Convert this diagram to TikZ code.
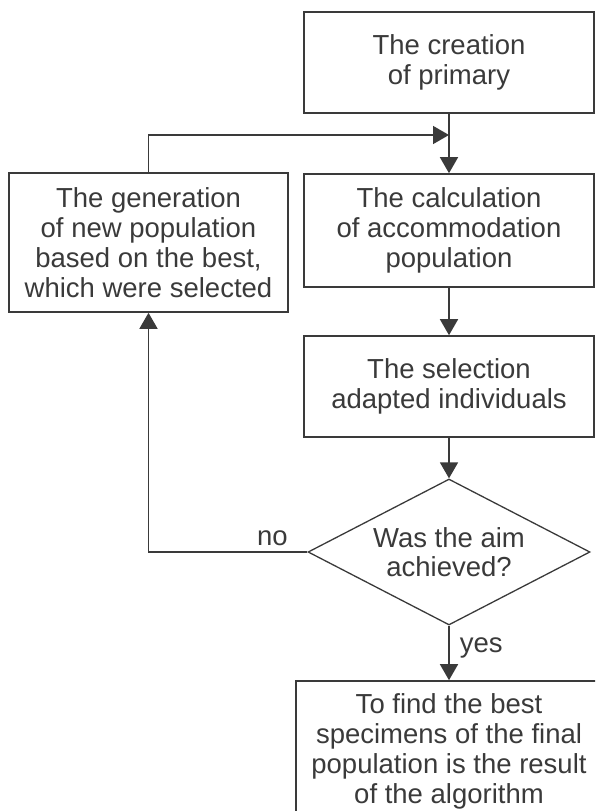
\documentclass[tikz,border=0pt]{standalone}
\usepackage{fontspec}
\setmainfont{Liberation Sans}
\usepackage{xcolor}
\usetikzlibrary{shapes.geometric, arrows.meta, positioning}
\definecolor{ink}{HTML}{3A3A3A}

\begin{document}
\begin{tikzpicture}[
    x=1pt, y=-1pt,
    box/.style={draw=ink, rectangle, line width=1.6pt, align=center, text=ink, inner sep=0pt, font=\fontsize{27.5}{30}\selectfont},
    decision/.style={draw=ink, diamond, line width=1.3pt, aspect=1.93, minimum width=282pt, minimum height=146pt, inner sep=0pt, align=center, text=ink, font=\fontsize{27.5}{29}\selectfont},
    arrow/.style={->, >={Triangle[width=18pt,length=16pt]}, draw=ink, line width=1.6pt},
    lbl/.style={text=ink, font=\fontsize{27.5}{30}\selectfont},
]
\clip (0,0) rectangle (595,811);

% Main column
\node[box, minimum width=290pt, minimum height=101pt] (create) at (449, 62.5) {The creation\\of primary};
\node[box, minimum width=290pt, minimum height=113pt] (calc) at (449, 230.5) {The calculation\\of accommodation\\population};
\node[box, minimum width=290pt, minimum height=101pt] (select) at (449, 386.5) {The selection\\adapted individuals};
\node[decision] (aim) at (449, 552) {Was the aim\\achieved?};
\node[box, minimum width=306pt, minimum height=140pt] (result) at (449, 751) {To find the best\\specimens of the final\\population is the result\\of the algorithm};

% Feedback branch
\node[box, minimum width=279pt, minimum height=139pt] (generate) at (148.5, 242.5) {The generation\\of new population\\based on the best,\\which were selected};
\coordinate (join) at (449, 135);

% Arrows
\draw[arrow] (create) -- (calc);
\draw[arrow] (generate.north) |- (join);
\draw[arrow] (calc) -- (select);
\draw[arrow] (select) -- (aim);
\draw[arrow] (aim.west) -| node[lbl, pos=0.11, above, inner sep=5pt] {no} (generate.south);
\draw[arrow] (aim.south) -- node[lbl, pos=0.4, right, inner sep=10pt] {yes} (result.north);

\end{tikzpicture}
\end{document}
